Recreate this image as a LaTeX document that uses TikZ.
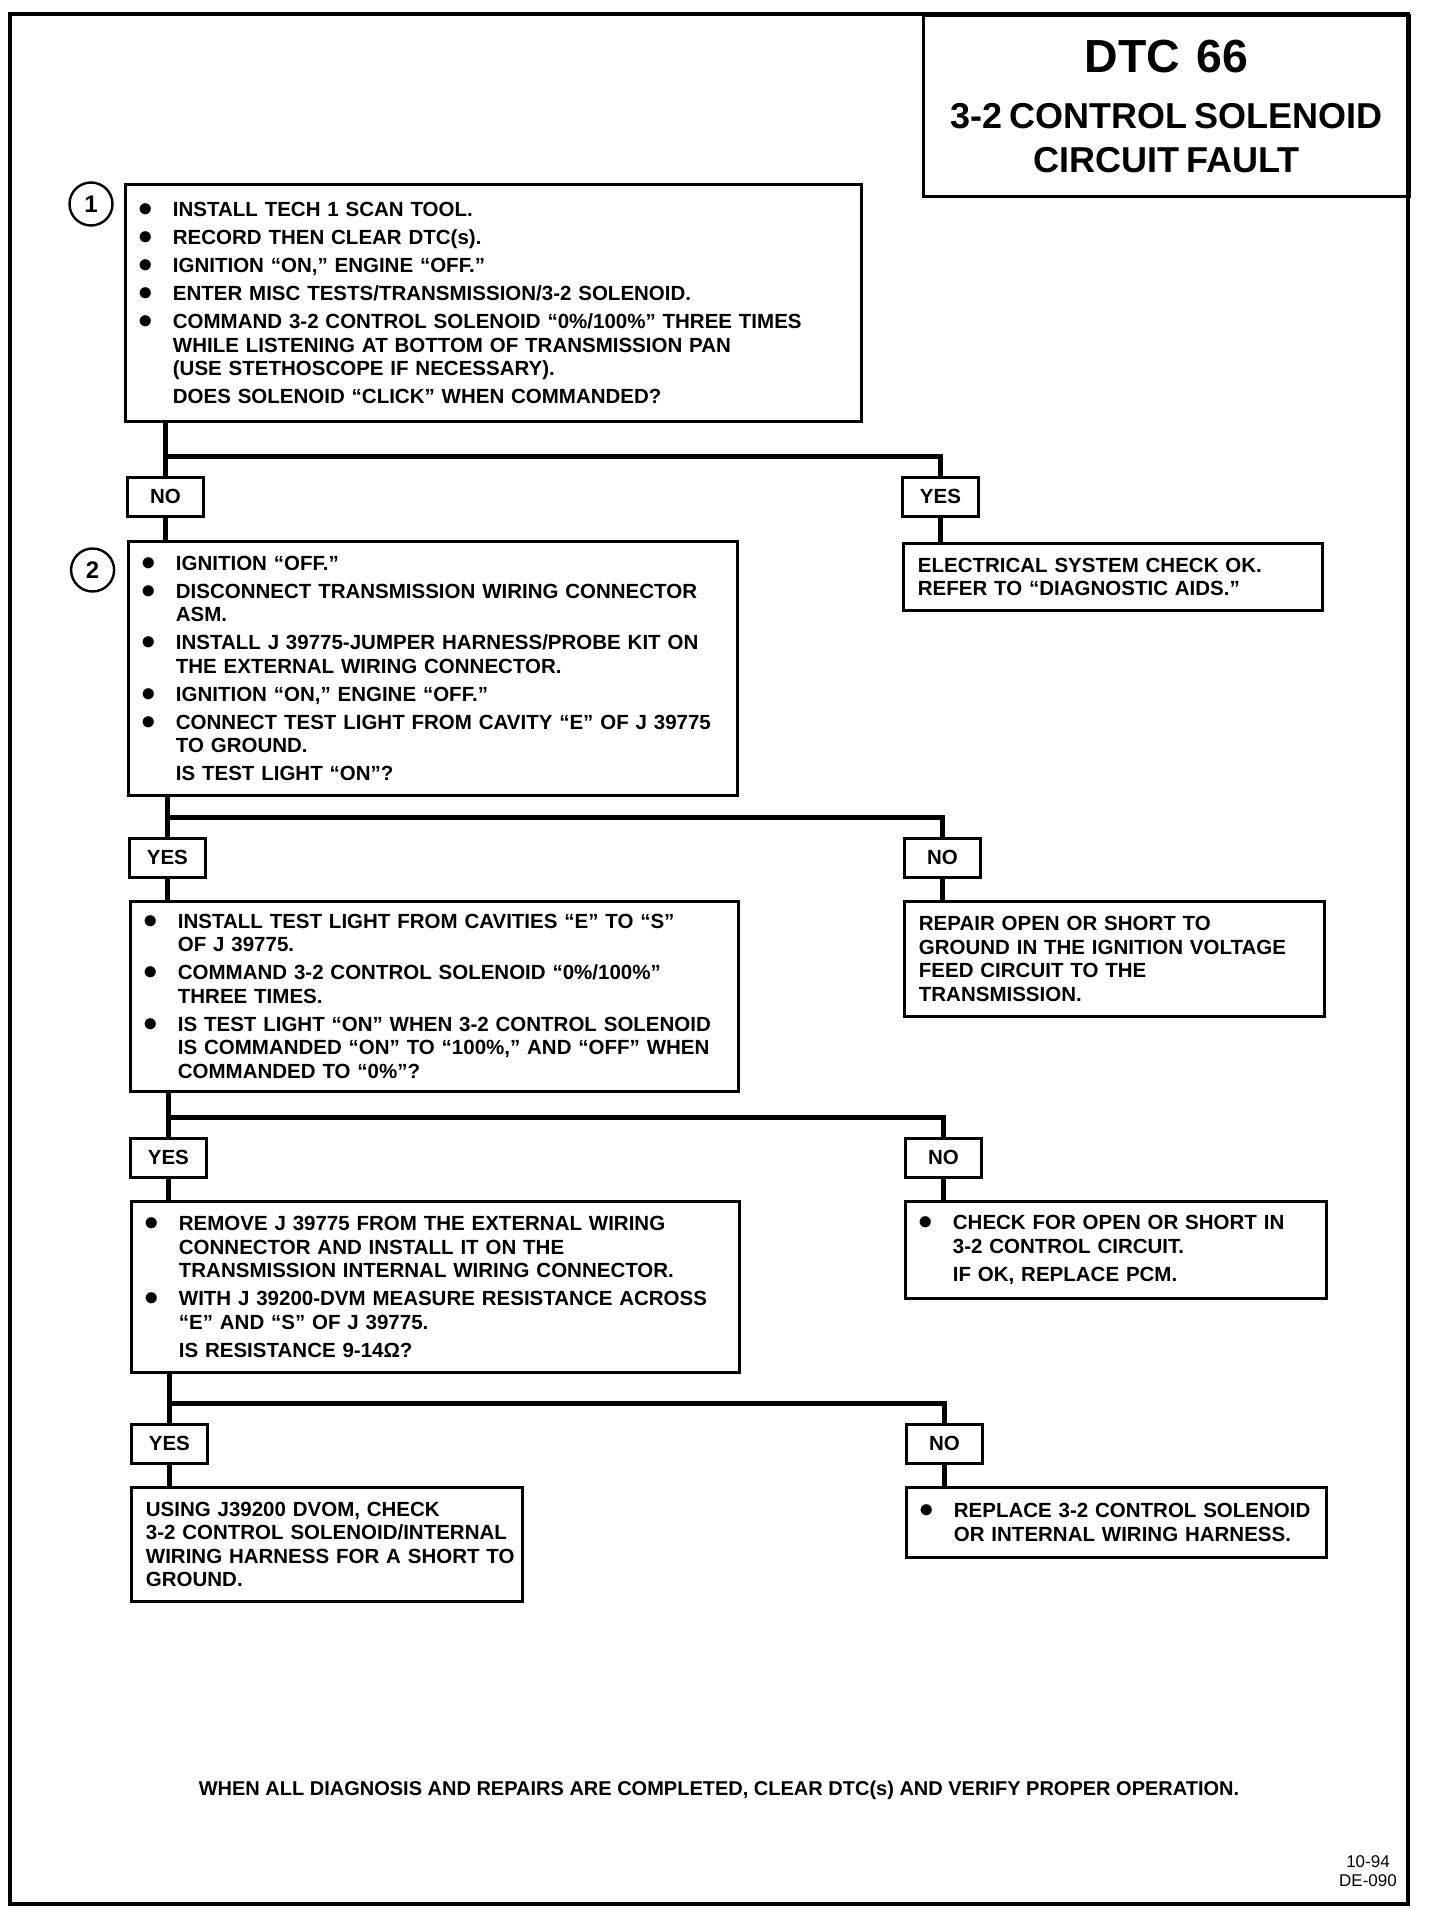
\documentclass[tikz,border=0pt]{standalone}
\usepackage{fontspec}
\setmainfont{Liberation Sans}
\usetikzlibrary{positioning, calc}

\newcommand{\bodyfont}{\fontsize{10.25pt}{11.75pt}\selectfont\bfseries}
\newcommand{\bitem}[1]{\mbox{\makebox[16.5pt][l]{\hspace*{-0.8pt}\scalebox{1.45}{$\bullet$}}#1}}
\newcommand{\bcont}[1]{\mbox{\hspace*{16.5pt}#1}}
\newcommand{\bline}[1]{\mbox{#1}}

\begin{document}
\begin{tikzpicture}[
    x=0.5pt, y=-0.5pt,
    every node/.style={font=\bodyfont},
    stepbox/.style={draw, line width=1.4pt, anchor=north west, align=left, inner xsep=7.25pt, inner ysep=0pt},
    answer/.style={draw, line width=1.4pt, anchor=north west, minimum width=38pt, minimum height=19.5pt, inner sep=0pt},
    stepnum/.style={draw, circle, line width=1.2pt, minimum size=21.5pt, inner sep=0pt,
                    font=\fontsize{12pt}{12pt}\selectfont\bfseries},
    flow/.style={line width=2.5pt}
]
    \useasboundingbox (0,0) rectangle (1440,1910);
    \draw[line width=1.75pt] (10,14) rectangle (1408,1904);

    % Title block
    \node[draw, line width=1.5pt, anchor=north west, minimum width=243pt, minimum height=90.5pt,
          text width=230pt, align=center, inner ysep=0pt] (title) at (922,14) {%
        {\fontsize{23.2pt}{28pt}\selectfont DTC\hspace{0.35em}66\par}
        {\fontsize{18pt}{28pt}\selectfont 3-2 CONTROL SOLENOID\par}
        {\fontsize{18pt}{22pt}\selectfont CIRCUIT FAULT\par}};

    % Step 1
    \node[stepnum] (k1) at (91,204) {1};
    \node[stepbox, text width=353.5pt, minimum height=118.5pt] (s1) at (124,183) {%
        \bitem{INSTALL TECH 1 SCAN TOOL.}\\[2.25pt]
        \bitem{RECORD THEN CLEAR DTC(s).}\\[2.25pt]
        \bitem{IGNITION “ON,” ENGINE “OFF.”}\\[2.25pt]
        \bitem{ENTER MISC TESTS/TRANSMISSION/3-2 SOLENOID.}\\[2.25pt]
        \bitem{COMMAND 3-2 CONTROL SOLENOID “0\%/100\%” THREE TIMES}\\
        \bcont{WHILE LISTENING AT BOTTOM OF TRANSMISSION PAN}\\
        \bcont{(USE STETHOSCOPE IF NECESSARY).}\\[2pt]
        \bcont{DOES SOLENOID “CLICK” WHEN COMMANDED?}};
    \node[answer] (n1) at (126,476) {NO};
    \node[answer] (y1) at (901,476) {YES};
    \node[stepbox, text width=195pt, minimum height=33.5pt] (e1) at (902,542) {%
        \bline{ELECTRICAL SYSTEM CHECK OK.}\\
        \bline{REFER TO “DIAGNOSTIC AIDS.”}};

    % Step 2
    \node[stepnum] (k2) at (92.6,570) {2};
    \node[stepbox, text width=290pt, minimum height=127pt] (s2) at (127,540) {%
        \bitem{IGNITION “OFF.”}\\[2.25pt]
        \bitem{DISCONNECT TRANSMISSION WIRING CONNECTOR}\\
        \bcont{ASM.}\\[2.25pt]
        \bitem{INSTALL J 39775-JUMPER HARNESS/PROBE KIT ON}\\
        \bcont{THE EXTERNAL WIRING CONNECTOR.}\\[2.25pt]
        \bitem{IGNITION “ON,” ENGINE “OFF.”}\\[2.25pt]
        \bitem{CONNECT TEST LIGHT FROM CAVITY “E” OF J 39775}\\
        \bcont{TO GROUND.}\\[2.25pt]
        \bcont{IS TEST LIGHT “ON”?}};
    \node[answer] (y2) at (128,837) {YES};
    \node[answer] (n2) at (903,837) {NO};

    % Test light check
    \node[stepbox, text width=289.5pt, minimum height=95pt] (s3) at (129,900) {%
        \bitem{INSTALL TEST LIGHT FROM CAVITIES “E” TO “S”}\\
        \bcont{OF J 39775.}\\[2.25pt]
        \bitem{COMMAND 3-2 CONTROL SOLENOID “0\%/100\%”}\\
        \bcont{THREE TIMES.}\\[2.25pt]
        \bitem{IS TEST LIGHT “ON” WHEN 3-2 CONTROL SOLENOID}\\
        \bcont{IS COMMANDED “ON” TO “100\%,” AND “OFF” WHEN}\\
        \bcont{COMMANDED TO “0\%”?}};
    \node[stepbox, text width=195.5pt, minimum height=57.5pt] (r1) at (903,900) {%
        \bline{REPAIR OPEN OR SHORT TO}\\
        \bline{GROUND IN THE IGNITION VOLTAGE}\\
        \bline{FEED CIRCUIT TO THE}\\
        \bline{TRANSMISSION.}};
    \node[answer] (y3) at (129,1137) {YES};
    \node[answer] (n3) at (904,1137) {NO};

    % Resistance check
    \node[stepbox, text width=289.5pt, minimum height=85.5pt] (s4) at (130,1200) {%
        \bitem{REMOVE J 39775 FROM THE EXTERNAL WIRING}\\
        \bcont{CONNECTOR AND INSTALL IT ON THE}\\
        \bcont{TRANSMISSION INTERNAL WIRING CONNECTOR.}\\[2.25pt]
        \bitem{WITH J 39200-DVM MEASURE RESISTANCE ACROSS}\\
        \bcont{“E” AND “S” OF J 39775.}\\[2.25pt]
        \bcont{IS RESISTANCE 9-14Ω?}};
    \node[stepbox, text width=196pt, minimum height=48.5pt] (c1) at (904,1200) {%
        \bitem{CHECK FOR OPEN OR SHORT IN}\\
        \bcont{3-2 CONTROL CIRCUIT.}\\[2.25pt]
        \bcont{IF OK, REPLACE PCM.}};
    \node[answer] (y4) at (130,1423) {YES};
    \node[answer] (n4) at (905,1423) {NO};

    % Final results
    \node[stepbox, text width=181pt, minimum height=57pt] (s5) at (130,1486) {%
        \bline{USING J39200 DVOM, CHECK}\\
        \bline{3-2 CONTROL SOLENOID/INTERNAL}\\
        \bline{WIRING HARNESS FOR A SHORT TO}\\
        \bline{GROUND.}};
    \node[stepbox, text width=195.5pt, minimum height=35pt] (r2) at (905,1486) {%
        \bitem{REPLACE 3-2 CONTROL SOLENOID}\\
        \bcont{OR INTERNAL WIRING HARNESS.}};

    \node[font=\fontsize{10pt}{12pt}\selectfont\bfseries] (foot) at (719,1790)
        {WHEN ALL DIAGNOSIS AND REPAIRS ARE COMPLETED, CLEAR DTC(s) AND VERIFY PROPER OPERATION.};
    \node[font=\fontsize{8.5pt}{9.5pt}\selectfont, align=center] (code) at (1368,1871) {10-94\\DE-090};

    % Connectors
    \draw[flow] (s1.south -| n1) -- (n1.north);
    \draw[flow] ($(n1.north)+(0,-20)$) -| (y1.north);
    \draw[flow] (n1.south) -- (s2.north -| n1);
    \draw[flow] (y1.south) -- (e1.north -| y1);

    \draw[flow] (s2.south -| y2) -- (y2.north);
    \draw[flow] ($(y2.north)+(0,-20)$) -| (n2.north);
    \draw[flow] (y2.south) -- (s3.north -| y2);
    \draw[flow] (n2.south) -- (r1.north -| n2);

    \draw[flow] (s3.south -| y3) -- (y3.north);
    \draw[flow] ($(y3.north)+(0,-20)$) -| (n3.north);
    \draw[flow] (y3.south) -- (s4.north -| y3);
    \draw[flow] (n3.south) -- (c1.north -| n3);

    \draw[flow] (s4.south -| y4) -- (y4.north);
    \draw[flow] ($(y4.north)+(0,-20)$) -| (n4.north);
    \draw[flow] (y4.south) -- (s5.north -| y4);
    \draw[flow] (n4.south) -- (r2.north -| n4);
\end{tikzpicture}
\end{document}
